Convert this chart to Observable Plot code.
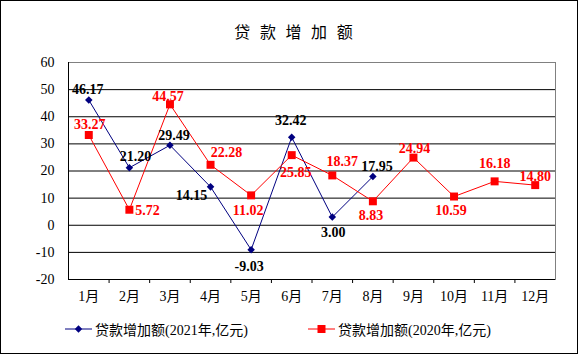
<!DOCTYPE html>
<html>
<head>
<meta charset="utf-8">
<script src="https://cdn.jsdelivr.net/npm/d3@7"></script>
<script src="https://cdn.jsdelivr.net/npm/@observablehq/plot@0.6"></script>
<style>
  body { margin: 0; background: #fff; }
  #wrap { position: relative; width: 578px; height: 354px; box-sizing: border-box; border: 1px solid #000; background: #fff; overflow: hidden; }
  #title { position: absolute; left: 0; width: 588px; top: 20px; text-align: center; font: 16px "Noto Sans CJK SC", sans-serif; letter-spacing: 3px; line-height: 20px; white-space: pre; }
  #chart { position: absolute; left: 0; top: 0; }
  .leg { position: absolute; top: 318px; height: 20px; display: flex; align-items: center; font: 14px "Times New Roman", "Liberation Serif", "Noto Sans CJK SC", serif; color: #000; white-space: nowrap; }
  .leg svg { margin-right: 3px; }
</style>
</head>
<body>
<div id="wrap">
  <div id="title">贷 款 增 加 额</div>
  <div id="chart"></div>
  <div class="leg" id="leg1" style="left:64px"></div>
  <div class="leg" id="leg2" style="left:307px"></div>
</div>
<script>
// ---- data ----
const months = ["1月","2月","3月","4月","5月","6月","7月","8月","9月","10月","11月","12月"];
const loans2021 = [46.17, 21.20, 29.49, 14.15, -9.03, 32.42, 3.00, 17.95];
const loans2020 = [33.27, 5.72, 44.57, 22.28, 11.02, 25.85, 18.37, 8.83, 24.94, 10.59, 16.18, 14.80];
const yTicks = [-20, -10, 0, 10, 20, 30, 40, 50, 60];
const seriesNames = ["贷款增加额(2021年,亿元)", "贷款增加额(2020年,亿元)"];

// label placement offsets (px) for the value labels
const lab2021Dx = [-1, 6, 4, -19, -2, -1, 1, 4];
const lab2021Dy = [-10, -11, -10, 9, 17, -17, 15, -10];
const lab2020Dx = [1, 18, -2, 16, -3, 4, 10, -2, 1, -3, 0, 0];
const lab2020Dy = [-10, 1, -8, -12, 15, 17, -14, 14, -9, 14, -18, -9];

const d2021 = loans2021.map((v, i) => ({i: i + 1, v}));
const d2020 = loans2020.map((v, i) => ({i: i + 1, v}));

const navy = "#000080", red = "#FF0000";
const serif = '"Times New Roman", "Liberation Serif", "Noto Sans CJK SC", serif';

const diamond = {
  draw(ctx, size) {
    const s = Math.sqrt(size / 2);
    ctx.moveTo(0, -s); ctx.lineTo(s, 0); ctx.lineTo(0, s); ctx.lineTo(-s, 0); ctx.closePath();
  }
};

const labelMarks = [];
d2021.forEach((d, k) => labelMarks.push(Plot.text([d], {
  x: "i", y: "v", text: r => r.v.toFixed(2), dx: lab2021Dx[k], dy: lab2021Dy[k],
  fill: "#000", fontWeight: "bold", fontSize: 14, fontFamily: serif, lineAnchor: "middle"
})));
d2020.forEach((d, k) => labelMarks.push(Plot.text([d], {
  x: "i", y: "v", text: r => r.v.toFixed(2), dx: lab2020Dx[k], dy: lab2020Dy[k],
  fill: red, fontWeight: "bold", fontSize: 14, fontFamily: serif, lineAnchor: "middle"
})));

const chart = Plot.plot({
  width: 576, height: 300,
  marginLeft: 67, marginRight: 22, marginTop: 61, marginBottom: 22,
  style: {fontFamily: serif, fontSize: "14px", color: "#000", background: "transparent", overflow: "visible"},
  x: {domain: [0.5, 12.5], axis: null},
  y: {domain: [-20, 60], axis: null},
  marks: [
    Plot.ruleY(yTicks.filter(t => t > -20 && t < 60), {stroke: "#000", strokeWidth: 1}),
    Plot.frame({stroke: "#808080"}),
    Plot.ruleX([0.5], {stroke: "#000"}),
    Plot.ruleY([-20], {stroke: "#000"}),
    Plot.axisY({ticks: yTicks, tickSize: 0, tickPadding: 14, tickFormat: d => String(d), fontSize: 14, label: null}),
    Plot.axisX({ticks: d3.range(1.5, 12, 1), tickSize: 4, tickFormat: () => "", stroke: "#000", label: null}),
    Plot.axisX({ticks: d3.range(1, 13), tickSize: 0, tickPadding: 12, tickFormat: i => months[i - 1], fontSize: 14, label: null}),
    Plot.line(d2021, {x: "i", y: "v", stroke: navy, strokeWidth: 1}),
    Plot.dot(d2021, {x: "i", y: "v", symbol: diamond, r: 3, fill: navy, stroke: "none"}),
    Plot.line(d2020, {x: "i", y: "v", stroke: red, strokeWidth: 1}),
    Plot.dot(d2020, {x: "i", y: "v", symbol: "square", r: 4.5, fill: red, stroke: "none"}),
    ...labelMarks
  ]
});
document.getElementById("chart").appendChild(chart);

// legend
function swatch(color, kind) {
  const ns = "http://www.w3.org/2000/svg";
  const svg = document.createElementNS(ns, "svg");
  svg.setAttribute("width", 27); svg.setAttribute("height", 12);
  const line = document.createElementNS(ns, "line");
  line.setAttribute("x1", 0); line.setAttribute("x2", 27); line.setAttribute("y1", 6); line.setAttribute("y2", 6);
  line.setAttribute("stroke", color); svg.appendChild(line);
  if (kind === "diamond") {
    const p = document.createElementNS(ns, "path");
    p.setAttribute("d", "M13.5,2.3L17.2,6L13.5,9.7L9.8,6Z"); p.setAttribute("fill", color); svg.appendChild(p);
  } else {
    const r = document.createElementNS(ns, "rect");
    r.setAttribute("x", 9.5); r.setAttribute("y", 2); r.setAttribute("width", 8); r.setAttribute("height", 8);
    r.setAttribute("fill", color); svg.appendChild(r);
  }
  return svg;
}
const l1 = document.getElementById("leg1");
l1.appendChild(swatch(navy, "diamond")); l1.appendChild(document.createTextNode(seriesNames[0]));
const l2 = document.getElementById("leg2");
l2.appendChild(swatch(red, "square")); l2.appendChild(document.createTextNode(seriesNames[1]));
</script>
</body>
</html>
